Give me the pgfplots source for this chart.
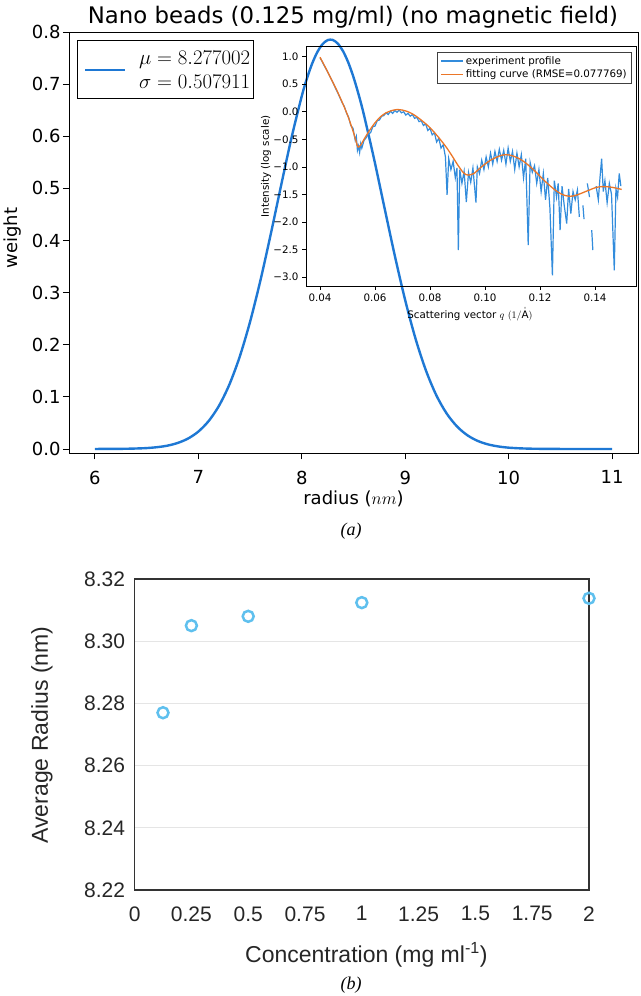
\documentclass[border=0pt]{standalone}
\usepackage{fontspec}
\setmainfont{DejaVu Sans}
\newfontfamily\arialf{Liberation Sans}
\newfontfamily\timesf{Liberation Serif}
\usepackage{pgfplots}
\usepackage{pgfplotstable}
\pgfplotsset{compat=1.18}

\definecolor{mainblue}{RGB}{30,120,212}
\definecolor{expblue}{RGB}{50,140,220}
\definecolor{fitorange}{RGB}{235,118,40}
\definecolor{dotblue}{RGB}{95,192,238}

% size distribution (radius in nm, weight)
\pgfplotstableread{
r w
6.0 0.0000
6.1 0.0001
6.2 0.0002
6.3 0.0004
6.4 0.0009
6.5 0.0017
6.6 0.0034
6.7 0.0063
6.8 0.0115
6.9 0.0199
7.0 0.0333
7.1 0.0536
7.2 0.0829
7.3 0.1235
7.4 0.1769
7.5 0.2438
7.6 0.3231
7.7 0.4120
7.8 0.5054
7.9 0.5964
8.0 0.6770
8.05 0.7109
8.1 0.7392
8.15 0.7613
8.2 0.7765
8.25 0.7844
8.3 0.7847
8.35 0.7774
8.4 0.7628
8.45 0.7412
8.5 0.7133
8.55 0.6797
8.6 0.6417
8.7 0.5553
8.8 0.4623
8.9 0.3702
9.0 0.2852
9.1 0.2113
9.2 0.1507
9.3 0.1033
9.4 0.0682
9.5 0.0433
9.6 0.0264
9.7 0.0155
9.8 0.0088
9.9 0.0048
10.0 0.0025
10.1 0.0013
10.2 0.0006
10.3 0.0003
10.4 0.0001
10.6 0.0000
11.0 0.0000
}\gaussdata

% fitted scattering curve
\pgfplotstableread{
q I
0.0400 0.99
0.0420 0.80
0.0440 0.60
0.0460 0.40
0.0480 0.18
0.0500 -0.06
0.0520 -0.35
0.0530 -0.52
0.0538 -0.64
0.0545 -0.62
0.0550 -0.59
0.0560 -0.50
0.0580 -0.34
0.0600 -0.20
0.0620 -0.09
0.0640 -0.02
0.0660 0.02
0.0680 0.04
0.0700 0.03
0.0720 0.00
0.0740 -0.05
0.0760 -0.12
0.0780 -0.20
0.0800 -0.29
0.0820 -0.40
0.0840 -0.52
0.0860 -0.65
0.0880 -0.80
0.0900 -0.96
0.0920 -1.10
0.0930 -1.14
0.0940 -1.15
0.0960 -1.12
0.0980 -1.03
0.1000 -0.95
0.1020 -0.88
0.1040 -0.83
0.1060 -0.79
0.1080 -0.78
0.1100 -0.80
0.1120 -0.84
0.1140 -0.90
0.1160 -0.98
0.1180 -1.07
0.1200 -1.17
0.1220 -1.27
0.1240 -1.36
0.1260 -1.44
0.1280 -1.50
0.1300 -1.53
0.1320 -1.53
0.1340 -1.50
0.1360 -1.46
0.1380 -1.42
0.1400 -1.38
0.1420 -1.36
0.1440 -1.36
0.1460 -1.37
0.1480 -1.39
0.1497 -1.41
}\fitdata

% measured profile (nan = no value on log scale)
\pgfplotstableread{
q I
0.0400 0.98
0.0408 0.91
0.0416 0.83
0.0424 0.76
0.0432 0.68
0.0440 0.60
0.0448 0.52
0.0456 0.43
0.0464 0.35
0.0472 0.26
0.0480 0.17
0.0488 0.10
0.0496 -0.02
0.0504 -0.10
0.0512 -0.25
0.0520 -0.30
0.0528 -0.52
0.0532 -0.45
0.0536 -0.70
0.0540 -0.62
0.0544 -0.74
0.0548 -0.58
0.0552 -0.66
0.0560 -0.52
0.0568 -0.47
0.0576 -0.40
0.0584 -0.38
0.0592 -0.27
0.0600 -0.26
0.0608 -0.16
0.0616 -0.15
0.0624 -0.08
0.0632 -0.07
0.0640 -0.02
0.0648 -0.05
0.0656 0.01
0.0664 -0.03
0.0672 0.02
0.0680 -0.01
0.0688 0.03
0.0696 -0.02
0.0704 0.00
0.0712 -0.06
0.0720 -0.03
0.0728 -0.08
0.0736 -0.05
0.0744 -0.12
0.0752 -0.10
0.0760 -0.18
0.0768 -0.16
0.0776 -0.25
0.0784 -0.22
0.0792 -0.34
0.0800 -0.30
0.0808 -0.42
0.0816 -0.38
0.0824 -0.55
0.0832 -0.48
0.0840 -0.66
0.0848 -0.60
0.0856 -0.82
0.0862 -1.51
0.0868 -0.85
0.0876 -1.05
0.0884 -0.90
0.0892 -1.20
0.0898 -1.02
0.0903 -2.51
0.0908 -1.05
0.0916 -1.30
0.0924 -1.08
0.0932 -1.64
0.0940 -1.10
0.0948 -1.28
0.0956 -1.02
0.0967 -1.65
0.0972 -1.00
0.0980 -1.12
0.0988 -0.88
0.0996 -1.05
0.1004 -0.82
0.1012 -1.00
0.1020 -0.75
0.1028 -0.95
0.1036 -0.72
0.1044 -0.90
0.1052 -0.68
0.1060 -0.88
0.1068 -0.70
0.1076 -0.95
0.1084 -0.66
0.1092 -0.90
0.1100 -0.72
0.1108 -1.05
0.1116 -0.75
0.1124 -1.00
0.1132 -0.78
0.1140 -1.20
0.1148 -0.85
0.1157 -2.42
0.1164 -0.92
0.1172 -1.10
0.1180 -0.98
0.1188 -1.30
0.1196 -1.05
0.1204 -1.45
0.1212 -1.12
0.1220 -1.60
0.1228 -1.20
0.1236 -1.75
0.1245 -2.97
0.1252 -1.25
0.1260 -1.55
0.1266 -1.30
0.1273 -2.15
0.1280 -1.35
0.1288 -1.70
0.1297 -2.03
0.1304 -1.40
0.1312 -1.85
0.1320 -1.45
0.1328 -1.60
0.1336 -1.42
0.1343 -1.91
0.1350 nan
0.1356 -1.70
0.1360 -1.95
0.1366 nan
0.1372 -1.30
0.1380 -1.55
0.1384 nan
0.1388 -2.15
0.1392 -2.51
0.1396 nan
0.1404 -1.35
0.1412 -1.60
0.1418 -1.20
0.1424 -0.85
0.1430 -1.45
0.1436 -1.25
0.1444 -1.65
0.1452 -1.30
0.1460 -1.50
0.1470 -2.88
0.1476 -1.40
0.1482 -1.55
0.1488 -1.12
0.1494 -1.35
}\expdata

% average radius vs concentration
\pgfplotstableread{
c r
0.125 8.277
0.25 8.305
0.5 8.308
1 8.3124
2 8.3138
}\radiusdata

\begin{document}
\begin{tikzpicture}
\path[use as bounding box] (0pt,0pt) rectangle (640pt,996pt);

% ---- panel (a), main axis
\begin{axis}[
    at={(69pt,542.7pt)}, anchor=south west,
    scale only axis, width=569pt, height=421.3pt,
    xmin=5.75, xmax=11.25, ymin=-0.0083, ymax=0.8,
    xtick={6,7,8,9,10,11},
    xticklabels={6,7,8,9,10,11},
    ytick={0,0.1,0.2,0.3,0.4,0.5,0.6,0.7,0.8},
    yticklabels={0.0,0.1,0.2,0.3,0.4,0.5,0.6,0.7,0.8},
    tick align=outside, tick pos=left,
    major tick length=6pt,
    every tick/.style={black, line width=0.8pt},
    axis line style={black, line width=0.8pt},
    tick label style={font=\fontsize{18}{20}\selectfont},
    xticklabel style={yshift=-8pt},
    yticklabel style={xshift=1pt},
    title={Nano beads (0.125 mg/ml) (no magnetic field)},
    title style={font=\fontsize{22.8}{26}\selectfont, at={(axis description cs:0.499,1.022)}, anchor=center},
    xlabel={radius ($nm$)},
    xlabel style={font=\fontsize{18}{20}\selectfont, at={(axis description cs:0.5,-0.1085)}, anchor=center},
    ylabel={weight},
    ylabel style={font=\fontsize{18}{20}\selectfont, at={(axis description cs:-0.0993,0.511)}, anchor=center, rotate=0},
]
\addplot[mainblue, line width=2.4pt, smooth] table[x=r, y=w] {\gaussdata};
\end{axis}

% legend of the main axis: one line handle, two-line label
\draw[black, line width=0.8pt, fill=white] (77pt,956pt) rectangle (253pt,898pt);
\draw[mainblue, line width=2.4pt] (85pt,926pt) -- (125pt,926pt);
\node[anchor=west, inner sep=0pt, font=\fontsize{20}{24}\selectfont, align=left] at (139pt,926pt)
    {$\mu=8.277002$\\$\sigma=0.507911$};

% ---- panel (a), inset
\begin{axis}[
    at={(306pt,710pt)}, anchor=south west,
    scale only axis, width=330pt, height=240pt,
    xmin=0.0349, xmax=0.1549, ymin=-3.163, ymax=1.194,
    xtick={0.04,0.06,0.08,0.10,0.12,0.14},
    xticklabels={0.04,0.06,0.08,0.10,0.12,0.14},
    ytick={-3,-2.5,-2,-1.5,-1,-0.5,0,0.5,1},
    yticklabels={−3.0,−2.5,−2.0,−1.5,−1.0,−0.5,0.0,0.5,1.0},
    tick align=outside, tick pos=left,
    major tick length=4pt,
    every tick/.style={black, line width=0.6pt},
    axis line style={black, line width=0.6pt},
    tick label style={font=\fontsize{10.3}{12}\selectfont},
    unbounded coords=jump,
    xlabel={Scattering vector $q$ $(1/\mathring{\mathrm{A}})$},
    xlabel style={font=\fontsize{10.3}{12}\selectfont, at={(axis description cs:0.497,-0.118)}, anchor=center},
    ylabel={Intensity (log scale)},
    ylabel style={font=\fontsize{10.3}{12}\selectfont, at={(axis description cs:-0.121,0.498)}, anchor=center, rotate=0},
    legend style={at={(axis description cs:0.988,0.975)}, anchor=north east,
        draw=black!75, line width=0.6pt, fill=white,
        font=\fontsize{10.3}{13}\selectfont, cells={anchor=west},
        inner xsep=3pt, inner ysep=2pt},
    legend image code/.code={\draw[#1] (0pt,0pt) -- (22pt,0pt);},
]
\addplot[expblue, line width=1.2pt] table[x=q, y=I] {\expdata};
\addlegendentry{experiment profile}
\addplot[fitorange, line width=1.3pt, smooth] table[x=q, y=I] {\fitdata};
\addlegendentry{fitting curve (RMSE=0.077769)}
\end{axis}

\node[font=\timesf\itshape\fontsize{18}{20}\selectfont] at (351pt,465pt) {(a)};

% ---- panel (b)
\begin{axis}[
    at={(134.6pt,106pt)}, anchor=south west,
    scale only axis, width=454.4pt, height=311pt,
    xmin=0, xmax=2, ymin=8.22, ymax=8.32,
    xtick={0,0.25,0.5,0.75,1,1.25,1.5,1.75,2},
    xticklabels={0,0.25,0.5,0.75,1,1.25,1.5,1.75,2},
    ytick={8.22,8.24,8.26,8.28,8.30,8.32},
    yticklabels={8.22,8.24,8.26,8.28,8.30,8.32},
    major tick length=0pt,
    ymajorgrids, grid style={black!10, line width=0.8pt},
    axis line style={black!80, line width=1.3pt},
    tick label style={font=\arialf\fontsize{21}{24}\selectfont, text=black!85},
    xticklabel style={yshift=-13pt},
    yticklabel style={xshift=-6pt},
    xlabel={Concentration (mg ml\textsuperscript{-1})},
    xlabel style={font=\arialf\fontsize{23}{26}\selectfont, text=black!85, at={(axis description cs:0.51,-0.209)}, anchor=center},
    ylabel={Average Radius (nm)},
    ylabel style={font=\arialf\fontsize{23}{26}\selectfont, text=black!85, at={(axis description cs:-0.204,0.498)}, anchor=center, rotate=0},
    clip=false,
]
\addplot[only marks, mark=o, mark size=5.5pt, mark options={draw=dotblue, line width=2.5pt}] table[x=c, y=r] {\radiusdata};
\end{axis}

\node[font=\timesf\itshape\fontsize{18}{20}\selectfont] at (351pt,11pt) {(b)};
\end{tikzpicture}
\end{document}
